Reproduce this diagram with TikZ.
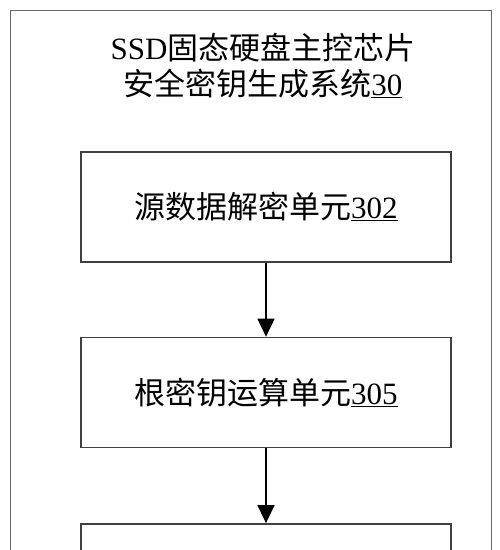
\documentclass[tikz,border=0pt]{standalone}
\usepackage{fontspec}
\setmainfont{Liberation Serif}
\newfontfamily\cjk{Noto Sans CJK SC}
\usetikzlibrary{positioning,arrows.meta}

\begin{document}
\begin{tikzpicture}[x=1pt,y=-1pt,
      every node/.style={font=\fontsize{31}{36}\selectfont,align=center},
      unit/.style={draw=black!75,line width=1.4pt,minimum width=370pt,minimum height=110pt,inner sep=0pt},
      flow/.style={-{Triangle[length=18pt,width=17pt]},line width=1.6pt}]
    \useasboundingbox (0,0) rectangle (500,550);
    \clip (0,0) rectangle (500,550);
    \node[draw=black!60,line width=1.6pt,minimum width=481pt,minimum height=600pt,inner sep=0pt,anchor=north west] (sys) at (9.5,9.5) {};
    \node (title) at (263,66) {SSD{\cjk 固态硬盘主控芯片}\\{\cjk 安全密钥生成系统}\underline{30}};
    \node[unit] (dec) at (266,207) {{\cjk 源数据解密单元}\underline{302}};
    \node[unit,below=74pt of dec] (root) {{\cjk 根密钥运算单元}\underline{305}};
    \node[unit,below=75pt of root] (next) {};
    \draw[flow] (dec) -- (root);
    \draw[flow] (root) -- (next);
  \end{tikzpicture}
\end{document}
